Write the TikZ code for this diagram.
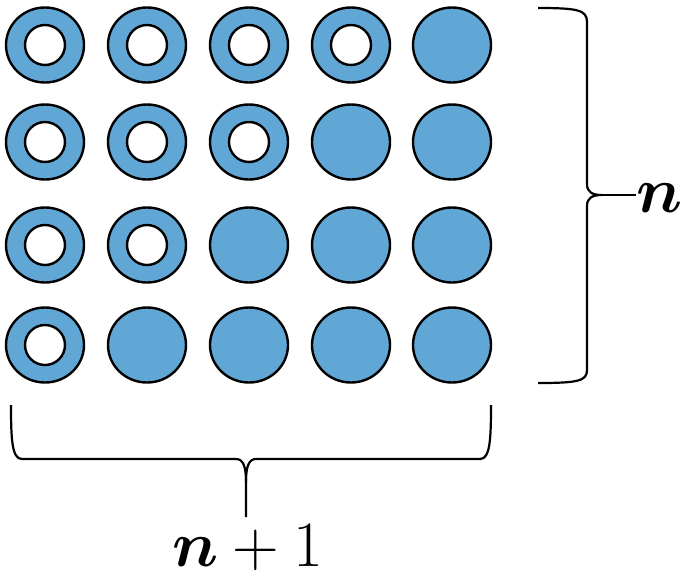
\documentclass[tikz,border=0pt]{standalone}
\usepackage{amsmath}
\usepackage{bm}
\usetikzlibrary{shapes.geometric}
\definecolor{dotblue}{RGB}{97,167,214}

\begin{document}
\begin{tikzpicture}[
  x=1pt, y=-1pt,
  dot/.style={draw, ellipse, fill=dotblue, line width=2.4pt, inner sep=0pt,
              minimum width=78pt, minimum height=75pt},
  hole/.style={draw, circle, fill=white, line width=2.4pt, inner sep=0pt,
               minimum size=40pt},
  brc/.style={line width=2.2pt, line join=round},
  lbl/.style={font=\Huge, scale=2.6, inner sep=0pt}
]
\useasboundingbox (0,0) rectangle (685,579);
% dots: row r keeps 5-r rings on the left
\foreach \r/\y in {1/45,2/142,3/245,4/345}
  \foreach \c/\x in {1/45,2/147,3/249,4/351,5/452} {
    \node[dot] (d\r\c) at (\x,\y) {};
    \pgfmathtruncatemacro{\ring}{\c+\r<6 ? 1 : 0}
    \ifnum\ring=1 \node[hole] (h\r\c) at (d\r\c) {}; \fi
  }
% right brace
\draw[brc] (538,8) .. controls (578,8) and (587,10) .. (587,22) -- (587,184)
  .. controls (587,192) and (592,195) .. (602,195)
  .. controls (592,195) and (587,198) .. (587,206) -- (587,370)
  .. controls (587,381) and (578,383) .. (538,383);
\node[lbl, anchor=base west] (rows) at (636,212) {$\bm{n}$};
\draw[brc] (602,195) -- (rows.west |- 0,195);
% bottom brace
\draw[brc] (11,405) .. controls (11,440) and (12,459) .. (22,459) -- (236,459)
  .. controls (243,459) and (246,466) .. (246,482) -- (246,517);
\draw[brc] (246,482) .. controls (246,466) and (249,459) .. (256,459) -- (480,459)
  .. controls (490,459) and (491,440) .. (491,405);
\node[lbl, anchor=base] (cols) at (248,566) {$\bm{n}+1$};
\end{tikzpicture}
\end{document}
